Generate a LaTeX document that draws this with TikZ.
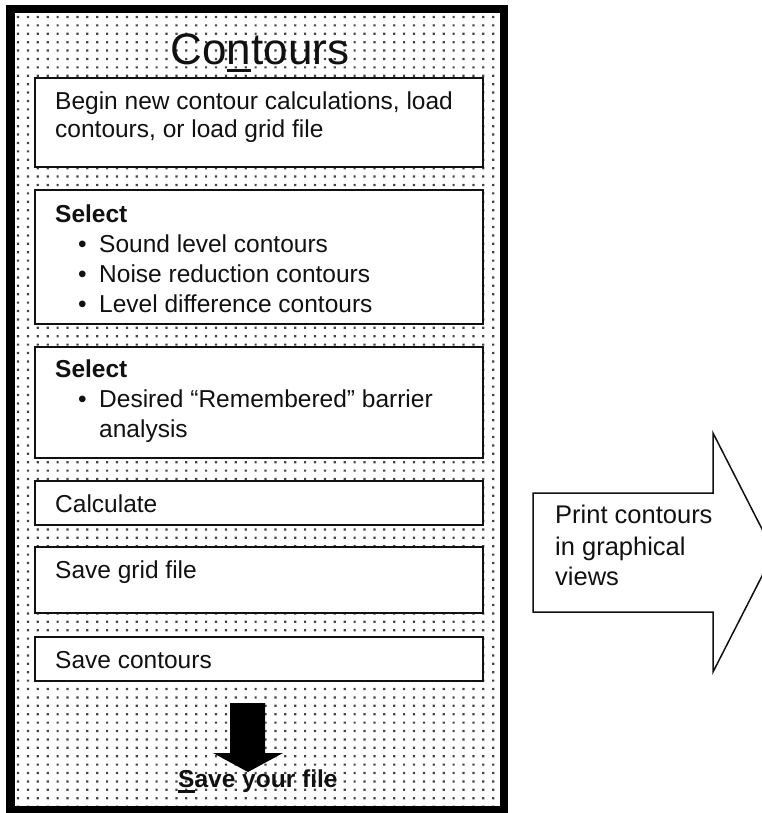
\documentclass[tikz,border=0pt]{standalone}
\usepackage{fontspec}
\setmainfont{Liberation Sans}
\definecolor{ink}{HTML}{111111}
\definecolor{dotc}{HTML}{444444}
\newcommand\ulchar[3]{\setbox0\hbox{#1}\rlap{\rule[-#2]{\wd0}{#3}}\box0}
\tikzset{
  stepbox/.style={draw=ink, line width=1.5pt, fill=white, inner sep=0pt, minimum width=448pt},
  txt/.style={anchor=base west, inner sep=0pt, text=ink, font=\fontsize{24.5}{28}\selectfont},
  btxt/.style={txt, font=\fontsize{24.5}{28}\selectfont\bfseries},
  ptxt/.style={txt, font=\fontsize{25.5}{30}\selectfont}
}
\begin{document}
\begin{tikzpicture}[x=1pt, y=-1pt]
\useasboundingbox (0,0) rectangle (761,813);
% dotted background
\foreach \r in {0,...,94} {
  \fill[dotc] \foreach \c in {0,...,49} { ({16.9+\c*9.9}, {15.9+\r*8.4}) rectangle ++(2.2,2.2) };
}
% outer frame
\draw[line width=8.5pt, black] (10.5,9) rectangle (504,810);
% title
\node[anchor=base, inner sep=0pt, text=ink, font=\fontsize{44}{50}\selectfont] (title) at (260,65) {Co\ulchar{n}{0.16em}{0.07em}tours};
% boxes
\node[stepbox, minimum height=89pt] (b1) at (259,122.5) {};
\node[stepbox, minimum height=134pt] (b2) at (259,257) {};
\node[stepbox, minimum height=111pt] (b3) at (259,402.5) {};
\node[stepbox, minimum height=44pt] (b4) at (259,503) {};
\node[stepbox, minimum height=66pt] (b5) at (259,580) {};
\node[stepbox, minimum height=44pt] (b6) at (259,659) {};
% box texts
\node[txt] (t1a) at (55,110) {Begin new contour calculations, load};
\node[txt] (t1b) at (55,138) {contours, or load grid file};
\node[btxt] (t2) at (55,222) {Select};
\node[txt] (t2a) at (78,252) {\makebox[21pt][l]{•}Sound level contours};
\node[txt] (t2b) at (78,282) {\makebox[21pt][l]{•}Noise reduction contours};
\node[txt] (t2c) at (78,312) {\makebox[21pt][l]{•}Level difference contours};
\node[btxt] (t3) at (55,377) {Select};
\node[txt] (t3a) at (78,407) {\makebox[21pt][l]{•}Desired “Remembered” barrier};
\node[txt] (t3b) at (99,437) {analysis};
\node[txt] (t4) at (55,512) {Calculate};
\node[txt] (t5) at (55,578) {Save grid file};
\node[txt] (t6) at (55,668) {Save contours};
% down arrow
\fill[black] (230,703) -- (265,703) -- (265,753) -- (283,753) -- (248,772) -- (213,753) -- (230,753) -- cycle;
\node[btxt] (save) at (178,787) {\ulchar{S}{0.24em}{0.1em}ave your file};
% right arrow
\draw[line width=1.5pt, ink, line join=miter] (533,493) -- (713,493) -- (713,433) -- (774,552.5) -- (713,672) -- (713,612) -- (533,612) -- cycle;
\node[ptxt] (p1) at (555,523) {Print contours};
\node[ptxt] (p2) at (555,555) {in graphical};
\node[ptxt] (p3) at (555,585) {views};
\end{tikzpicture}
\end{document}
